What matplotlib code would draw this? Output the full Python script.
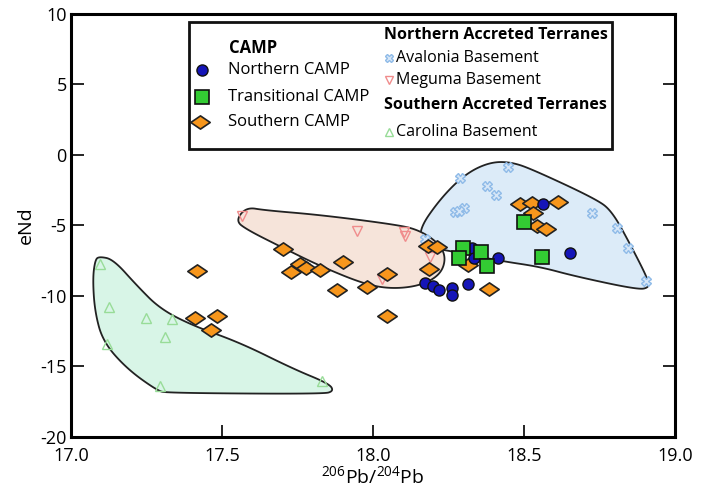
import numpy as np
import matplotlib
matplotlib.use('Agg')
import matplotlib.pyplot as plt
from matplotlib.patches import Polygon, Rectangle
from matplotlib.path import Path

plt.rcParams['font.family'] = ['Open Sans', 'DejaVu Sans']
plt.rcParams['mathtext.fontset'] = 'custom'
plt.rcParams['mathtext.rm'] = 'Open Sans'
plt.rcParams['mathtext.default'] = 'regular'
plt.rcParams['axes.unicode_minus'] = False

# CAMP samples
north_x = [18.563, 18.651, 18.413, 18.172, 18.200, 18.219, 18.261, 18.261, 18.316, 18.327, 18.334]
north_y = [-3.45, -6.94, -7.29, -9.11, -9.26, -9.58, -9.40, -9.92, -9.16, -6.59, -7.33]

trans_x = [18.297, 18.286, 18.357, 18.378, 18.500, 18.559]
trans_y = [-6.61, -7.29, -6.85, -7.84, -4.72, -7.24]

south_x = [17.416, 17.703, 17.728, 17.757, 17.778, 17.826, 17.901, 17.882, 17.981, 18.046,
           18.046, 17.411, 17.482, 17.463, 18.183, 18.213, 18.186, 18.316, 18.383, 18.487,
           18.525, 18.613, 18.531, 18.542, 18.572]
south_y = [-8.26, -6.66, -8.31, -7.75, -8.02, -8.19, -7.58, -9.56, -9.37, -8.43,
           -11.42, -11.57, -11.42, -12.44, -6.47, -6.54, -8.11, -7.79, -9.47, -3.49,
           -3.38, -3.33, -4.11, -5.05, -5.24]

# basement samples
aval_x = [18.448, 18.288, 18.378, 18.406, 18.272, 18.301, 18.285, 18.172, 18.724, 18.807, 18.845, 18.904]
aval_y = [-0.87, -1.65, -2.17, -2.83, -4.06, -3.77, -3.95, -5.95, -4.11, -5.19, -6.61, -8.97]

meg_x = [17.565, 17.947, 18.104, 18.106, 18.189, 18.029]
meg_y = [-4.30, -5.36, -5.45, -5.74, -7.25, -8.82]

car_x = [17.096, 17.127, 17.248, 17.333, 17.311, 17.118, 17.295, 17.830]
car_y = [-7.75, -10.76, -11.59, -11.61, -12.94, -13.42, -16.40, -16.05]

# field outlines
aval_field = [(18.149, -5.38), (18.222, -3.12), (18.305, -1.35), (18.387, -0.50), (18.460, -0.50),
              (18.536, -1.10), (18.738, -3.12), (18.791, -3.97), (18.851, -6.30), (18.910, -8.78),
              (18.915, -9.40), (18.877, -9.55), (18.669, -8.60), (18.553, -7.93), (18.421, -7.51),
              (18.272, -6.87), (18.172, -6.52)]
meg_field = [(17.545, -4.67), (17.580, -3.70), (17.642, -3.92), (17.825, -4.25), (18.073, -4.93),
             (18.150, -5.30), (18.215, -6.20), (18.242, -7.22), (18.225, -8.45), (18.160, -9.25),
             (18.066, -9.50), (17.974, -9.18), (17.825, -7.88), (17.692, -6.48), (17.583, -5.30)]
car_field = [(17.093, -7.20), (17.140, -7.40), (17.219, -9.28), (17.295, -10.91), (17.404, -12.11),
             (17.560, -13.31), (17.735, -15.16), (17.855, -16.22), (17.870, -16.75), (17.834, -16.95),
             (17.318, -16.88), (17.285, -16.70), (17.185, -15.16), (17.106, -13.24), (17.079, -11.12),
             (17.072, -8.78), (17.080, -7.45)]


def smooth(pts, n=4):
    # chaikin corner cutting for a rounded hand-drawn look
    p = np.array(pts, dtype=float)
    for _ in range(n):
        q = np.roll(p, -1, axis=0)
        p = np.vstack([0.75*p + 0.25*q, 0.25*p + 0.75*q]).reshape(2, -1, 2).transpose(1, 0, 2).reshape(-1, 2)
    return p


fig = plt.figure(figsize=(7.05, 4.98), dpi=100)
ax = fig.add_axes([0.1007, 0.1225, 0.8567, 0.8494])

ax.add_patch(Polygon(smooth(aval_field), closed=True, facecolor='#dcebf8', edgecolor='#222222', lw=1.3, zorder=1))
ax.add_patch(Polygon(smooth(meg_field), closed=True, facecolor='#f6e4da', edgecolor='#222222', lw=1.3, zorder=1.2))
ax.add_patch(Polygon(smooth(car_field), closed=True, facecolor='#d8f5e7', edgecolor='#222222', lw=1.3, zorder=1))

diamond = Path([(-1, 0), (0, 0.68), (1, 0), (0, -0.68), (-1, 0)],
               [Path.MOVETO, Path.LINETO, Path.LINETO, Path.LINETO, Path.CLOSEPOLY])

ax.plot(aval_x, aval_y, ls='none', marker='X', ms=7, mfc='#d6e6f7', mec='#8fbbe8', mew=1.0, zorder=3)
ax.plot(meg_x, meg_y, ls='none', marker='v', ms=7, mfc='none', mec='#f08c8c', mew=1.0, zorder=3)
ax.plot(car_x, car_y, ls='none', marker='^', ms=7, mfc='none', mec='#98dc98', mew=1.0, zorder=3)

ax.plot(south_x, south_y, ls='none', marker=diamond, ms=14, mfc='#f7961c', mec='#222222', mew=1.2, zorder=4)
ax.plot(north_x, north_y, ls='none', marker='o', ms=8, mfc='#1515b8', mec='#111111', mew=1.0, zorder=5)
ax.plot(trans_x, trans_y, ls='none', marker='s', ms=10, mfc='#33cc33', mec='#111111', mew=1.2, zorder=6)

ax.set_xlim(17.0, 19.0)
ax.set_ylim(-20, 10)
ax.set_xticks([17.0, 17.5, 18.0, 18.5, 19.0])
ax.set_xticklabels(['17.0', '17.5', '18.0', '18.5', '19.0'])
ax.set_yticks([-20, -15, -10, -5, 0, 5, 10])
ax.tick_params(direction='in', length=9, width=1.2, labelsize=13, right=True, top=False)
ax.tick_params(axis='x', pad=7)
ax.tick_params(axis='y', pad=3)
for s in ax.spines.values():
    s.set_linewidth(2.2)
ax.set_xlabel(r'$^{206}$Pb/$^{204}$Pb', fontsize=14, labelpad=0)
ax.set_ylabel('eNd', fontsize=14, labelpad=4)

# legend box
ax.add_patch(Rectangle((0.1954, 0.681), 0.7003, 0.300, transform=ax.transAxes,
                       facecolor='white', edgecolor='#111111', lw=2, zorder=10))
tx = dict(transform=ax.transAxes, va='center', ha='left', zorder=11)
ax.text(0.262, 0.92, 'CAMP', fontsize=12, fontweight='bold', **tx)
ax.text(0.26, 0.868, 'Northern CAMP', fontsize=12, **tx)
ax.text(0.26, 0.804, 'Transitional CAMP', fontsize=12, **tx)
ax.text(0.26, 0.745, 'Southern CAMP', fontsize=12, **tx)
ax.plot([0.217], [0.868], transform=ax.transAxes, marker='o', ms=8, mfc='#1515b8', mec='#111111', zorder=11, clip_on=False)
ax.plot([0.217], [0.804], transform=ax.transAxes, marker='s', ms=10, mfc='#33cc33', mec='#111111', mew=1.2, zorder=11, clip_on=False)
ax.plot([0.213], [0.745], transform=ax.transAxes, marker=diamond, ms=14, mfc='#f7961c', mec='#222222', mew=1.2, zorder=11, clip_on=False)

ax.text(0.519, 0.950, 'Northern Accreted Terranes', fontsize=11.5, fontweight='bold', **tx)
ax.text(0.538, 0.896, 'Avalonia Basement', fontsize=11.5, **tx)
ax.text(0.538, 0.844, 'Meguma Basement', fontsize=11.5, **tx)
ax.text(0.519, 0.785, 'Southern Accreted Terranes', fontsize=11.5, fontweight='bold', **tx)
ax.text(0.538, 0.721, 'Carolina Basement', fontsize=11.5, **tx)
ax.plot([0.527], [0.896], transform=ax.transAxes, marker='X', ms=6, mfc='#d6e6f7', mec='#8fbbe8', zorder=11)
ax.plot([0.527], [0.844], transform=ax.transAxes, marker='v', ms=6, mfc='none', mec='#f08c8c', zorder=11)
ax.plot([0.527], [0.721], transform=ax.transAxes, marker='^', ms=6, mfc='none', mec='#98dc98', zorder=11)

fig.savefig('out.png', dpi=100)
